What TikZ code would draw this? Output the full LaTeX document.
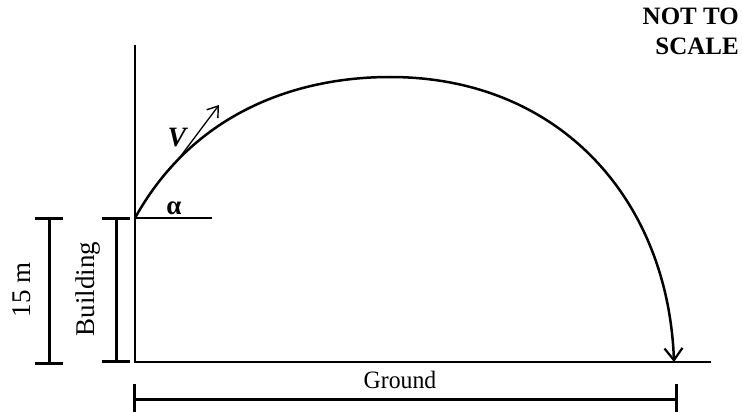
\documentclass[tikz,border=0pt]{standalone}
\usepackage{fontspec}
\setmainfont{Liberation Serif}
\usetikzlibrary{arrows.meta}

\begin{document}
\begin{tikzpicture}[x=1pt, y=-1pt, >={Straight Barb[length=12pt, width=18pt, line width=2.2pt]},
    lbl/.style={font=\fontsize{27}{30}\selectfont, inner sep=0pt},
    dimbar/.style={line width=3pt},
    tick/.style={line width=3pt},
    thinline/.style={line width=1.5pt},
    path/.style={line width=2.5pt}]
    \useasboundingbox (0,0) rectangle (742,412);

    % axis and ground
    \coordinate (top) at (135,45);
    \coordinate (launch) at (135,218);
    \coordinate (base) at (135,362);
    \coordinate (groundend) at (711,362);
    \coordinate (horiz) at (212,218);
    \coordinate (peak) at (390,77);
    \coordinate (land) at (674,362);
    \draw[thinline] (top) -- (base) -- (groundend);
    \draw[thinline] (launch) -- (horiz);

    % trajectory
    \draw[path, ->] (launch) .. controls (195,110) and (300,77) .. (peak)
        .. controls (560,77) and (668,200) .. (land);

    % velocity
    \coordinate (vtail) at (177,161);
    \coordinate (vtip) at (219,105);
    \draw[line width=1.3pt, -{Straight Barb[length=10pt, width=14pt, line width=1.4pt]}] (vtail) -- (vtip);
    \node[lbl, font=\fontsize{28}{30}\selectfont\bfseries\itshape] (vel) at (177,138) {V};
    \node[lbl, font=\fontsize{27}{30}\selectfont\bfseries] (alpha) at (174,208) {α};

    % 15 m dimension
    \coordinate (htop) at (49,218);
    \coordinate (hbot) at (49,363);
    \draw[dimbar] (htop) -- (hbot);
    \draw[tick] ([xshift=-14pt]htop) -- ([xshift=14pt]htop);
    \draw[tick] ([xshift=-14pt]hbot) -- ([xshift=14pt]hbot);
    \node[lbl, rotate=90] (height) at (22,290) {15 m};

    % building
    \coordinate (btop) at (116,218);
    \coordinate (bbot) at (116,361);
    \draw[dimbar] (btop) -- (bbot);
    \draw[tick] ([xshift=-14pt]btop) -- ([xshift=14pt]btop);
    \draw[tick] ([xshift=-14pt]bbot) -- ([xshift=14pt]bbot);
    \node[lbl, rotate=90] (building) at (88,289) {Building};

    % ground dimension
    \coordinate (gleft) at (134,399);
    \coordinate (gright) at (676,399);
    \draw[dimbar] (gleft) -- (gright);
    \draw[tick] ([yshift=-15pt]gleft) -- ([yshift=15pt]gleft);
    \draw[tick] ([yshift=-15pt]gright) -- ([yshift=15pt]gright);
    \node[lbl, font=\fontsize{25}{30}\selectfont, xscale=0.95] (ground) at (400,380) {Ground};

    \node[lbl, font=\fontsize{25}{30}\selectfont\bfseries, align=right, anchor=north east] (note) at (739,8) {NOT TO\\SCALE};
\end{tikzpicture}
\end{document}
